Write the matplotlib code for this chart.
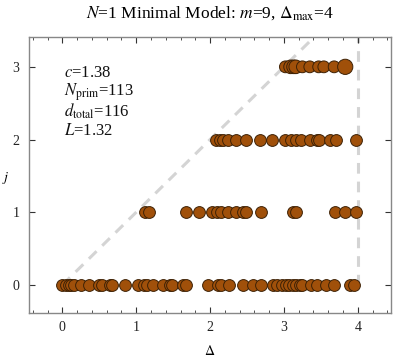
import matplotlib
matplotlib.use("Agg")
import matplotlib.pyplot as plt
from matplotlib.ticker import MultipleLocator

plt.rcParams["font.family"] = ["Liberation Serif", "DejaVu Serif"]
plt.rcParams["mathtext.fontset"] = "stix"

# spectrum: scaling dimension Delta for each spin j
delta_j0 = [0.0, 0.045, 0.09, 0.12, 0.16, 0.25, 0.36, 0.49, 0.54, 0.65, 0.67,
            0.85, 1.03, 1.10, 1.15, 1.23, 1.36, 1.46, 1.48, 1.64, 1.68, 1.97,
            2.11, 2.15, 2.26, 2.44, 2.58, 2.69, 2.85, 2.91, 2.98, 3.03, 3.07,
            3.12, 3.16, 3.22, 3.25, 3.36, 3.45, 3.57, 3.68, 3.90, 3.95]
delta_j1 = [1.12, 1.17, 1.68, 1.85, 2.03, 2.09, 2.15, 2.24, 2.35, 2.45, 2.49,
            2.69, 3.12, 3.17, 3.69, 3.83, 3.97]
delta_j2 = [2.08, 2.13, 2.17, 2.24, 2.35, 2.49, 2.68, 2.84, 3.02, 3.09, 3.16,
            3.23, 3.35, 3.45, 3.48, 3.63, 3.70, 3.97]
delta_j3 = [3.02, 3.09, 3.13, 3.16, 3.25, 3.35, 3.47, 3.54, 3.68, 3.83]
# degeneracy of the j=3 states (marker size)
degen_j3 = [1, 2, 2, 2, 1, 1, 1, 1, 1, 3]

delta_max = 4
stats = [r"$c$=1.38", r"$N_{\rm prim}$=113", r"$d_{\rm total}$=116", r"$L$=1.32"]

face = "#A0500A"
edge = "#3d2105"

fig, ax = plt.subplots(figsize=(3.99, 3.63), dpi=100)
fig.subplots_adjust(left=0.073, right=0.98, bottom=0.138, top=0.898)

# unitarity bound j = Delta and cutoff Delta = Delta_max
ax.plot([0, 3.6], [0, 3.6], color="#d4d4d4", lw=2.2, ls=(0, (3.5, 2.6)), zorder=1)
ax.plot([delta_max, delta_max], [0, 3.6], color="#d4d4d4", lw=2.2, ls=(0, (3.5, 2.6)), zorder=1)

for j, d in [(0, delta_j0), (1, delta_j1), (2, delta_j2)]:
    ax.scatter(d, [j] * len(d), s=72, c=face, edgecolors=edge, linewidths=0.7, zorder=3)
ax.scatter(delta_j3, [3] * len(delta_j3), s=[72 + 24 * (g - 1) for g in degen_j3],
           c=face, edgecolors=edge, linewidths=0.7, zorder=3)

ax.set_xlim(-0.45, 4.45)
ax.set_ylim(-0.385, 3.41)
ax.set_xticks([0, 1, 2, 3, 4])
ax.set_yticks([0, 1, 2, 3])
ax.xaxis.set_minor_locator(MultipleLocator(0.2))
ax.tick_params(which="both", direction="in", top=True, right=True, color="#333333",
               labelsize=10, labelcolor="#222222")
ax.tick_params(which="major", length=4, width=0.8)
ax.tick_params(which="minor", length=2, width=0.6)
ax.tick_params(axis="y", pad=7)
ax.tick_params(axis="x", pad=6)
for sp in ax.spines.values():
    sp.set_color("#888888")
    sp.set_linewidth(1.0)

ax.set_xlabel(r"$\Delta$", fontsize=10, labelpad=7)
ax.set_ylabel(r"$j$", fontsize=10, rotation=0, va="center")
ax.yaxis.set_label_coords(-0.065, 0.49)
ax.set_title(r"$N$=1 Minimal Model: $m$=9, $\Delta_{\rm max}$=4", fontsize=12.5, pad=14)

for i, s in enumerate(stats):
    ax.text(0.097, 0.87 - i * 0.07, s, transform=ax.transAxes, fontsize=12,
            va="center", ha="left", color="#111111")

fig.savefig("out.png", dpi=100)
